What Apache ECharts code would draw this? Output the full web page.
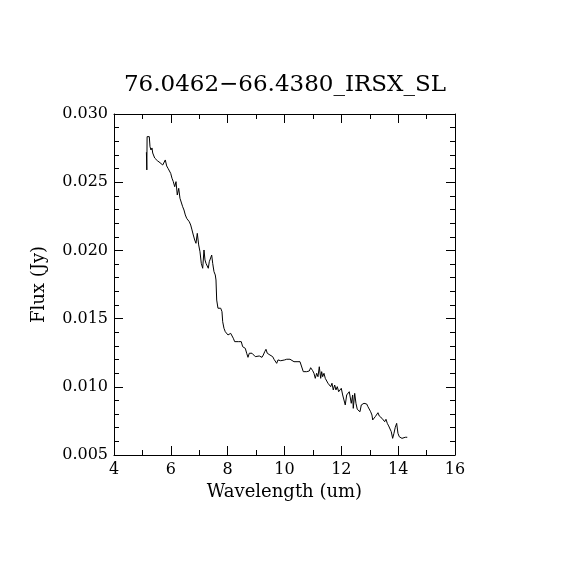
<!DOCTYPE html>
<html>
<head>
<meta charset="utf-8">
<script src="https://cdn.jsdelivr.net/npm/echarts@6/dist/echarts.min.js"></script>
<style>html,body{margin:0;padding:0;background:#fff;}#c{width:570px;height:570px;}</style>
</head>
<body>
<div id="c"></div>
<script>
const titleText = "76.0462\u221266.4380_IRSX_SL";
const xName = "Wavelength (um)";
const yName = "Flux (Jy)";
const xTicks = [4, 6, 8, 10, 12, 14, 16];
const yTicks = [0.005, 0.010, 0.015, 0.020, 0.025, 0.030];
const wavelength = [5.140,5.155,5.165,5.242,5.267,5.302,5.337,5.362,5.407,5.432,5.478,5.524,5.619,5.714,5.759,5.805,5.854,5.900,5.946,5.995,6.041,6.087,6.136,6.182,6.227,6.277,6.322,6.368,6.417,6.463,6.509,6.558,6.604,6.650,6.699,6.745,6.790,6.840,6.885,6.931,6.980,7.026,7.072,7.121,7.167,7.202,7.237,7.283,7.318,7.353,7.403,7.438,7.473,7.519,7.564,7.589,7.614,7.659,7.705,7.755,7.800,7.825,7.870,7.916,7.966,8.011,8.057,8.106,8.152,8.198,8.247,8.317,8.388,8.433,8.479,8.528,8.574,8.620,8.669,8.715,8.761,8.810,8.856,8.901,8.972,9.042,9.113,9.162,9.208,9.253,9.303,9.348,9.394,9.443,9.489,9.535,9.584,9.630,9.676,9.725,9.771,9.816,9.866,9.936,10.006,10.077,10.147,10.193,10.263,10.334,10.404,10.474,10.545,10.615,10.661,10.721,10.780,10.872,10.921,10.992,11.037,11.083,11.132,11.178,11.224,11.273,11.308,11.343,11.389,11.435,11.484,11.530,11.575,11.625,11.671,11.716,11.766,11.811,11.857,11.906,11.952,11.998,12.047,12.093,12.138,12.188,12.234,12.279,12.329,12.350,12.399,12.420,12.470,12.515,12.561,12.610,12.656,12.702,12.751,12.797,12.842,12.892,12.937,12.983,13.032,13.078,13.103,13.148,13.194,13.243,13.289,13.335,13.384,13.430,13.476,13.525,13.571,13.617,13.666,13.711,13.757,13.806,13.852,13.898,13.947,13.993,14.039,14.088,14.134,14.180,14.250,14.320];
const flux = [0.02720,0.02590,0.02834,0.02834,0.02760,0.02736,0.02751,0.02714,0.02724,0.02677,0.02687,0.02658,0.02643,0.02626,0.02639,0.02663,0.02619,0.02602,0.02614,0.02565,0.02529,0.02504,0.02467,0.02504,0.02406,0.02455,0.02382,0.02394,0.02320,0.02296,0.02260,0.02235,0.02247,0.02210,0.02186,0.02150,0.02113,0.02076,0.02052,0.02125,0.02040,0.01990,0.01905,0.01869,0.02003,0.01930,0.01905,0.01893,0.01869,0.01917,0.01930,0.01966,0.01905,0.01844,0.01820,0.01783,0.01636,0.01576,0.01563,0.01576,0.01551,0.01477,0.01429,0.01404,0.01392,0.01380,0.01367,0.01392,0.01380,0.01356,0.01331,0.01324,0.01331,0.01319,0.01331,0.01294,0.01306,0.01282,0.01246,0.01216,0.01246,0.01257,0.01246,0.01233,0.01221,0.01216,0.01226,0.01233,0.01216,0.01233,0.01257,0.01275,0.01246,0.01251,0.01233,0.01233,0.01221,0.01202,0.01197,0.01172,0.01197,0.01209,0.01191,0.01191,0.01197,0.01202,0.01209,0.01202,0.01197,0.01184,0.01172,0.01184,0.01184,0.01172,0.01111,0.01111,0.01111,0.01116,0.01140,0.01118,0.01099,0.01062,0.01099,0.01074,0.01147,0.01062,0.01111,0.01074,0.01099,0.01062,0.01050,0.01026,0.01030,0.01001,0.01026,0.00977,0.01013,0.00977,0.01001,0.00964,0.00952,0.00989,0.00940,0.00952,0.00867,0.00940,0.00927,0.00964,0.00977,0.00879,0.00940,0.00842,0.00952,0.00879,0.00835,0.00830,0.00817,0.00867,0.00867,0.00879,0.00867,0.00874,0.00854,0.00842,0.00817,0.00793,0.00757,0.00757,0.00781,0.00793,0.00810,0.00786,0.00800,0.00769,0.00762,0.00744,0.00762,0.00732,0.00713,0.00707,0.00671,0.00622,0.00659,0.00703,0.00732,0.00659,0.00634,0.00630,0.00622,0.00630,0.00630,0.00630];

const font = "DejaVu Serif";
const xMin = xTicks[0], xMax = xTicks[xTicks.length - 1];
const yMin = yTicks[0], yMax = yTicks[yTicks.length - 1];
const xInt = xTicks[1] - xTicks[0];
const yInt = +(yTicks[1] - yTicks[0]).toFixed(3);

const axisBase = {
  axisLine: { show: true, onZero: false, lineStyle: { color: '#000', width: 1 } },
  axisTick: { show: true, inside: true, length: 9, lineStyle: { color: '#000' } },
  minorTick: { show: true, length: 5, lineStyle: { color: '#000' } },
  splitLine: { show: false },
  minorSplitLine: { show: false }
};

const chart = echarts.init(document.getElementById('c'), null, { renderer: 'canvas' });
chart.setOption({
  backgroundColor: '#fff',
  animation: false,
  title: {
    text: titleText, left: 'center', top: 69,
    textStyle: { fontFamily: font, fontSize: 23, fontWeight: 'normal', color: '#000' }
  },
  grid: { left: 114, right: 115, top: 114, bottom: 115, containLabel: false },
  xAxis: [
    Object.assign({}, axisBase, {
      type: 'value', position: 'bottom', min: xMin, max: xMax, interval: xInt,
      minorTick: Object.assign({}, axisBase.minorTick, { splitNumber: 2 }),
      name: xName, nameLocation: 'middle', nameGap: 28,
      nameTextStyle: { fontFamily: font, fontSize: 18, color: '#000' },
      axisLabel: { fontFamily: font, fontSize: 16, color: '#000', margin: 7 }
    }),
    Object.assign({}, axisBase, {
      type: 'value', position: 'top', min: xMin, max: xMax, interval: xInt,
      minorTick: Object.assign({}, axisBase.minorTick, { splitNumber: 2 }),
      axisLabel: { show: false }
    })
  ],
  yAxis: [
    Object.assign({}, axisBase, {
      type: 'value', position: 'left', min: yMin, max: yMax, interval: yInt,
      minorTick: Object.assign({}, axisBase.minorTick, { splitNumber: 5 }),
      name: yName, nameLocation: 'middle', nameGap: 66, nameRotate: 90,
      nameTextStyle: { fontFamily: font, fontSize: 18, color: '#000' },
      axisLabel: { fontFamily: font, fontSize: 16, color: '#000', margin: 6,
        formatter: v => v.toFixed(3) }
    }),
    Object.assign({}, axisBase, {
      type: 'value', position: 'right', min: yMin, max: yMax, interval: yInt,
      minorTick: Object.assign({}, axisBase.minorTick, { splitNumber: 5 }),
      axisLabel: { show: false }
    })
  ],
  series: [{
    type: 'line',
    xAxisIndex: 0, yAxisIndex: 0,
    data: wavelength.map((w, i) => [w, flux[i]]),
    showSymbol: false, symbol: 'none',
    lineStyle: { color: '#000', width: 1 },
    silent: true
  }]
});
</script>
</body>
</html>
